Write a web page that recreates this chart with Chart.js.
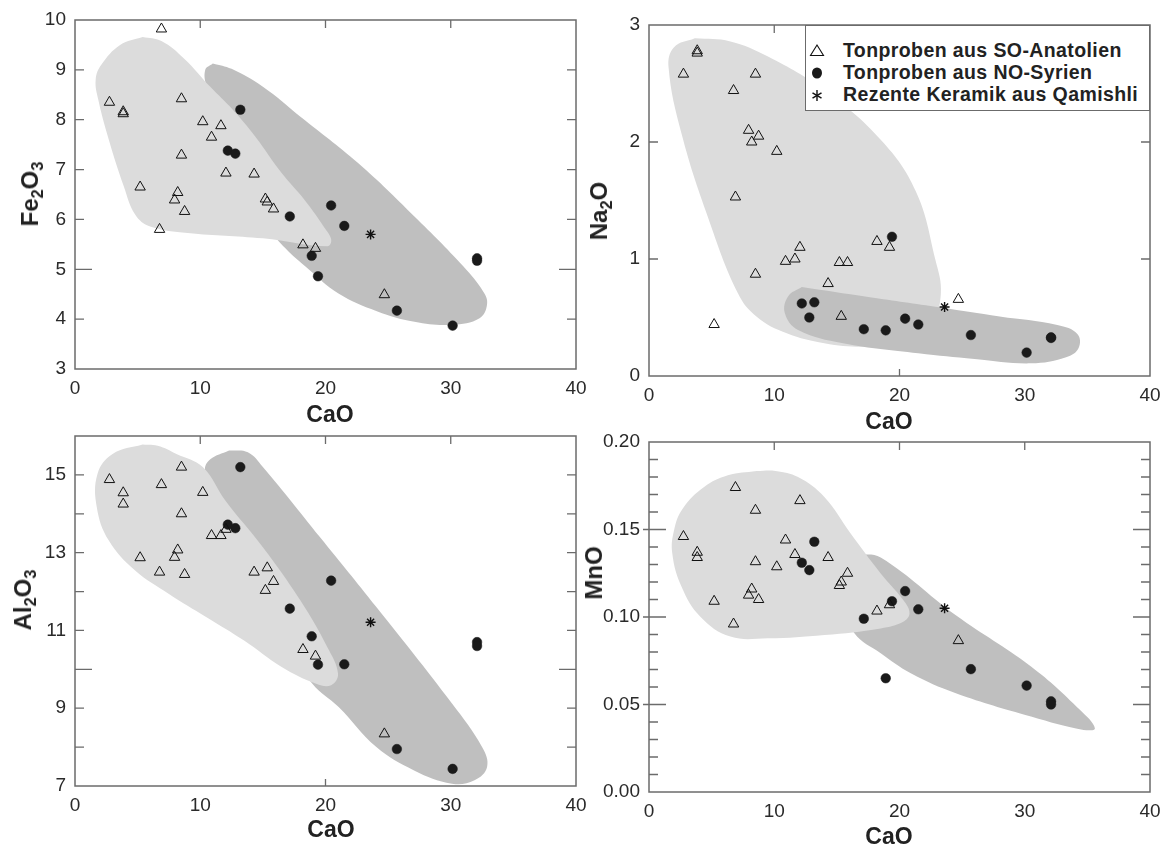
<!DOCTYPE html>
<html>
<head>
<meta charset="utf-8">
<script src="https://cdn.jsdelivr.net/npm/chart.js@4.4.0/dist/chart.umd.min.js"></script>
<style>
  body { margin: 0; background: #fff; width: 1169px; height: 850px; position: relative; overflow: hidden;
         font-family: "Liberation Sans", Arial, sans-serif; }
  canvas { position: absolute; }
  .ttl { position: absolute; font-weight: bold; color: #222; white-space: nowrap; }
  .yt { font-size: 24px; line-height: 24px; transform: translate(-50%, -50%) rotate(-90deg); }
  .xt { font-size: 23px; line-height: 23px; transform: translate(-50%, -50%); }
  .ttl sub { font-size: 0.68em; position: relative; top: 0.3em; vertical-align: baseline; }
  #legend { position: absolute; left: 805px; top: 25px; width: 345px; height: 86px; box-sizing: border-box;
            border: 1.5px solid #6b6b6b; background: #fff; }
  #legend .row { position: absolute; left: 0; height: 22px; line-height: 22px; width: 340px;
                 font-weight: bold; font-size: 19.5px; letter-spacing: 0.4px; color: #222; }
  #legend svg { position: absolute; left: 3px; top: 3px; }
  #legend span { position: absolute; left: 37px; }
</style>
</head>
<body>
<canvas id="fe"></canvas>
<canvas id="na"></canvas>
<canvas id="al"></canvas>
<canvas id="mn"></canvas>

<div class="ttl yt" style="left:31px;top:194px">Fe<sub>2</sub>O<sub>3</sub></div>
<div class="ttl yt" style="left:600px;top:211px">Na<sub>2</sub>O</div>
<div class="ttl yt" style="left:24px;top:600px">Al<sub>2</sub>O<sub>3</sub></div>
<div class="ttl yt" style="left:594px;top:573px">MnO</div>
<div class="ttl xt" style="left:330px;top:414px">CaO</div>
<div class="ttl xt" style="left:889px;top:421px">CaO</div>
<div class="ttl xt" style="left:331px;top:829px">CaO</div>
<div class="ttl xt" style="left:889px;top:836px">CaO</div>

<div id="legend">
  <div class="row" style="top:13px">
    <svg width="16" height="16"><polygon points="8,3 14.5,13.5 1.5,13.5" fill="none" stroke="#111" stroke-width="1.1"/></svg>
    <span>Tonproben aus SO-Anatolien</span>
  </div>
  <div class="row" style="top:35px">
    <svg width="16" height="16"><ellipse cx="8" cy="9" rx="5" ry="5.5" fill="#1a1a1a"/></svg>
    <span>Tonproben aus NO-Syrien</span>
  </div>
  <div class="row" style="top:57px">
    <svg width="16" height="16"><g stroke="#111" stroke-width="1.4"><line x1="8" y1="4" x2="8" y2="15"/><line x1="3.5" y1="6.8" x2="12.5" y2="12.2"/><line x1="3.5" y1="12.2" x2="12.5" y2="6.8"/></g></svg>
    <span>Rezente Keramik aus Qamishli</span>
  </div>
</div>

<script>
// tick labels
const caoTicks = [0, 10, 20, 30, 40];
const feTicks = [3, 4, 5, 6, 7, 8, 9, 10];
const naTicks = [0, 1, 2, 3];
const alTicks = [7, 9, 11, 13, 15];
const mnTicks = [0, 0.05, 0.10, 0.15, 0.20];

// Tonproben aus SO-Anatolien (triangles)
const soCaO = [2.75, 3.85, 3.85, 5.2, 6.75, 6.9, 7.95, 8.2, 8.5, 8.5, 8.75, 10.2, 10.9, 11.65, 12.05, 14.3, 15.2, 15.35, 15.85, 18.2, 19.2, 24.7];
const soFe  = [8.35, 8.16, 8.12, 6.65, 5.80, 9.82, 6.39, 6.54, 8.42, 7.29, 6.16, 7.96, 7.65, 7.88, 6.93, 6.91, 6.41, 6.35, 6.21, 5.49, 5.42, 4.49];
const soNa  = [2.58, 2.78, 2.76, 0.44, 2.44, 1.53, 2.10, 2.00, 2.58, 0.87, 2.05, 1.92, 0.98, 1.00, 1.10, 0.79, 0.97, 0.51, 0.97, 1.15, 1.10, 0.655];
const soAl  = [14.88, 14.54, 14.25, 12.87, 12.50, 14.75, 12.88, 13.07, 15.20, 14.00, 12.44, 14.55, 13.44, 13.44, 13.60, 12.50, 12.03, 12.61, 12.26, 10.51, 10.34, 8.34];
const soMn  = [0.146, 0.137, 0.134, 0.109, 0.096, 0.174, 0.1125, 0.116, 0.161, 0.1316, 0.110, 0.1287, 0.144, 0.1357, 0.1665, 0.134, 0.118, 0.120, 0.125, 0.1034, 0.107, 0.0865];

// Tonproben aus NO-Syrien (filled circles)
const noCaO = [12.2, 12.8, 13.2, 17.15, 18.9, 19.4, 20.45, 21.5, 25.7, 30.15, 32.1, 32.1];
const noFe  = [7.38, 7.32, 8.20, 6.06, 5.27, 4.86, 6.28, 5.87, 4.17, 3.87, 5.22, 5.17];
const noNa  = [0.62, 0.50, 0.63, 0.40, 0.39, 1.19, 0.49, 0.44, 0.35, 0.20, 0.33, 0.325];
const noAl  = [13.72, 13.63, 15.20, 11.56, 10.85, 10.12, 12.28, 10.13, 7.95, 7.44, 10.70, 10.60];
const noMn  = [0.131, 0.1268, 0.143, 0.099, 0.065, 0.109, 0.1148, 0.1044, 0.0702, 0.0608, 0.0518, 0.0500];

// Rezente Keramik aus Qamishli (asterisk)
const qaCaO = [23.6];
const qaFe  = [5.70];
const qaNa  = [0.59];
const qaAl  = [11.21];
const qaMn  = [0.105];

// shaded fields, outlines as [CaO, oxide]
const feLight = [[5.4,9.66],[6.9,9.58],[8.7,9.23],[10.8,8.66],[12.6,8.2],[14.4,7.66],[16.5,6.93],[18.3,6.4],[19.85,5.86],[20.45,5.6],[20.15,5.46],[15,5.62],[9,5.73],[6,5.86],[4.8,6.1],[3.9,6.66],[2.7,7.6],[1.86,8.4],[1.65,8.8],[2.1,9.1],[3.6,9.5],[5.4,9.66]];
const feDark  = [[11.0,9.13],[12.5,9.02],[15,8.66],[18,8.06],[22.6,7.13],[27.1,6.06],[31.0,5.06],[32.6,4.55],[32.9,4.3],[32.3,4.02],[30.1,3.89],[27.1,3.95],[24.1,4.16],[21.0,4.52],[18.65,5.0],[16.8,5.42],[15.6,5.79],[13.5,6.66],[11.7,7.73],[10.5,8.66],[10.4,9.0],[11.0,9.13]];
const naLight = [[3.66,2.886],[6.5,2.86],[9.5,2.73],[14,2.44],[18.5,2.02],[21.3,1.58],[22.85,1.0],[23.3,0.7],[22.5,0.45],[20,0.28],[17,0.25],[14,0.28],[11,0.365],[8.6,0.507],[7.1,0.707],[4.7,1.36],[2.6,2.07],[1.56,2.64],[2.0,2.81],[3.66,2.886]];
const naDark  = [[12.2,0.76],[17.5,0.675],[23.3,0.585],[28,0.508],[32.6,0.436],[34.2,0.36],[34.3,0.24],[33.3,0.16],[30.5,0.108],[26,0.145],[21.5,0.194],[15.5,0.28],[11.9,0.393],[10.85,0.536],[11.1,0.68],[12.2,0.76]];
const alLight = [[5.4,15.78],[6.6,15.75],[8.1,15.54],[10.2,15.2],[12,14.34],[15,13.14],[18,11.77],[20.15,10.57],[21,9.89],[20.45,9.59],[19.25,9.63],[16.5,10.06],[13.5,10.74],[10.5,11.34],[7.5,11.94],[4.8,12.54],[2.7,13.31],[1.74,14.17],[1.8,15.03],[3.0,15.54],[5.4,15.78]];
const alDark  = [[12.3,15.63],[13.8,15.58],[15,15.2],[19.55,13.4],[24.06,11.6],[30.1,9.12],[32.5,8.0],[32.9,7.49],[31.9,7.15],[30.1,7.06],[27.07,7.4],[24.06,8.0],[21.05,9.03],[18.95,9.63],[18,10.23],[15,12.1],[12,13.83],[10.4,15.1],[10.8,15.4],[12.3,15.63]];
const mnLight = [[8.6,0.1835],[10.1,0.1835],[11.9,0.18],[14.0,0.1686],[16.1,0.1477],[18.5,0.1249],[20.3,0.1097],[20.8,0.1021],[20.3,0.0973],[18.5,0.0935],[14.0,0.0897],[9.5,0.0878],[6.5,0.0888],[4.1,0.1002],[2.6,0.1173],[1.86,0.1363],[2.0,0.1496],[2.7,0.162],[4.4,0.1743],[6.3,0.181],[8.6,0.1835]];
const mnDark  = [[16.6,0.136],[18.5,0.134],[24.5,0.101],[30.5,0.0717],[34.4,0.047],[35.6,0.0365],[34.7,0.0355],[30.5,0.0432],[24.5,0.0565],[20.9,0.0679],[18.5,0.0793],[16.4,0.0907],[15.5,0.108],[15.8,0.126],[16.6,0.136]];

const LIGHT = '#dcdcdc';
const DARK = '#bfbfbf';
const AXIS = '#6b6b6b';
const FONT = '"Liberation Sans", Arial, sans-serif';

const pts = (xs, ys) => xs.map((x, i) => ({x, y: ys[i]}));

// closed smooth field
const field = (outline, color) => ({
  type: 'line',
  data: outline.map(([x, y]) => ({x, y})),
  backgroundColor: color,
  borderColor: 'rgba(0,0,0,0)',
  borderWidth: 0,
  pointRadius: 0,
  fill: 'shape',
  tension: 0.4
});

// frame and inward ticks on all sides
const frame = {
  id: 'frame',
  afterDraw(chart, args, o) {
    const {ctx, chartArea: a} = chart;
    const sx = chart.scales.x, sy = chart.scales.y;
    ctx.save();
    ctx.strokeStyle = AXIS;
    ctx.lineWidth = 1.5;
    ctx.strokeRect(a.left, a.top, a.right - a.left, a.bottom - a.top);
    ctx.lineWidth = 1.3;
    ctx.beginPath();
    (o.top || []).forEach(v => {
      const p = sx.getPixelForValue(v);
      ctx.moveTo(p, a.top); ctx.lineTo(p, a.top + 8);
    });
    (o.bottom || []).forEach(v => {
      const p = sx.getPixelForValue(v);
      ctx.moveTo(p, a.bottom); ctx.lineTo(p, a.bottom - 7);
    });
    (o.side || []).forEach(v => {
      const p = sy.getPixelForValue(v);
      const long = (o.long || []).some(w => Math.abs(w - v) < 1e-9);
      const len = long ? 17 : 9;
      const out = long ? (o.out || 0) : 0;
      ctx.moveTo(a.left - out, p); ctx.lineTo(a.left + len, p);
      ctx.moveTo(a.right, p); ctx.lineTo(a.right - len, p);
    });
    ctx.stroke();
    ctx.restore();
  }
};

function panel(id, box, ymin, ymax, yTicks, dec, fields, so, no, qa, marks) {
  const cv = document.getElementById(id);
  cv.width = box.r - box.l + 70 + 15;
  cv.height = box.b - box.t + 20 + 45;
  cv.style.left = (box.l - 70) + 'px';
  cv.style.top = (box.t - 20) + 'px';

  new Chart(cv, {
    type: 'scatter',
    data: {
      datasets: [
        ...fields,
        {
          label: 'Tonproben aus SO-Anatolien',
          data: so,
          pointStyle: 'triangle',
          pointRadius: 6,
          borderColor: '#111',
          borderWidth: 1,
          backgroundColor: 'rgba(0,0,0,0)'
        },
        {
          label: 'Tonproben aus NO-Syrien',
          data: no,
          pointStyle: 'circle',
          pointRadius: 4.8,
          borderColor: '#1a1a1a',
          borderWidth: 0.5,
          backgroundColor: '#1a1a1a'
        },
        {
          label: 'Rezente Keramik aus Qamishli',
          data: qa,
          pointStyle: 'star',
          pointRadius: 5,
          borderColor: '#111',
          borderWidth: 1.4
        }
      ]
    },
    options: {
      responsive: false,
      animation: false,
      events: [],
      layout: {padding: {top: 20, right: 15, left: 0, bottom: 0}},
      plugins: {
        legend: {display: false},
        tooltip: {enabled: false},
        filler: {drawTime: 'beforeDatasetsDraw'},
        frame: marks
      },
      scales: {
        x: {
          type: 'linear', min: 0, max: 40,
          afterBuildTicks: s => { s.ticks = caoTicks.map(v => ({value: v})); },
          afterFit: s => { s.height = 45; s.paddingLeft = 0; s.paddingRight = 0; },
          grid: {display: false, drawTicks: false},
          border: {display: false},
          ticks: {padding: 8, color: '#2a2a2a', font: {family: FONT, size: 19}}
        },
        y: {
          type: 'linear', min: ymin, max: ymax,
          afterBuildTicks: s => { s.ticks = yTicks.map(v => ({value: v})); },
          afterFit: s => { s.width = 70; s.paddingTop = 0; s.paddingBottom = 0; },
          grid: {display: false, drawTicks: false},
          border: {display: false},
          ticks: {padding: 9, color: '#2a2a2a', font: {family: FONT, size: 19},
                  callback: v => v.toFixed(dec)}
        }
      }
    },
    plugins: [frame]
  });
}

panel('fe', {l: 75, r: 576, t: 20, b: 369}, 3, 10, feTicks, 0,
  [field(feLight, LIGHT), field(feDark, DARK)],
  pts(soCaO, soFe), pts(noCaO, noFe), pts(qaCaO, qaFe),
  {top: [10, 20, 30], side: [4, 5, 6, 7, 8, 9], long: [5]});

panel('na', {l: 649, r: 1150, t: 25, b: 376}, 0, 3, naTicks, 0,
  [field(naDark, DARK), field(naLight, LIGHT)],
  pts(soCaO, soNa), pts(noCaO, noNa), pts(qaCaO, qaNa),
  {top: [10, 20, 30], bottom: [20], side: [1, 2]});

panel('al', {l: 75, r: 576, t: 436, b: 786}, 7, 16, alTicks, 0,
  [field(alLight, LIGHT), field(alDark, DARK)],
  pts(soCaO, soAl), pts(noCaO, noAl), pts(qaCaO, qaAl),
  {top: [10, 20, 30], bottom: [20], side: [8, 9, 10, 11, 12, 13, 14, 15], long: [10]});

const mnSide = [];
for (let i = 1; i < 20; i++) mnSide.push(i / 100);
panel('mn', {l: 649, r: 1150, t: 442, b: 792}, 0, 0.2, mnTicks, 2,
  [field(mnLight, LIGHT), field(mnDark, DARK)],
  pts(soCaO, soMn), pts(noCaO, noMn), pts(qaCaO, qaMn),
  {top: [10, 20, 30], side: mnSide, long: [0.05, 0.10, 0.15], out: 6});
</script>
</body>
</html>
